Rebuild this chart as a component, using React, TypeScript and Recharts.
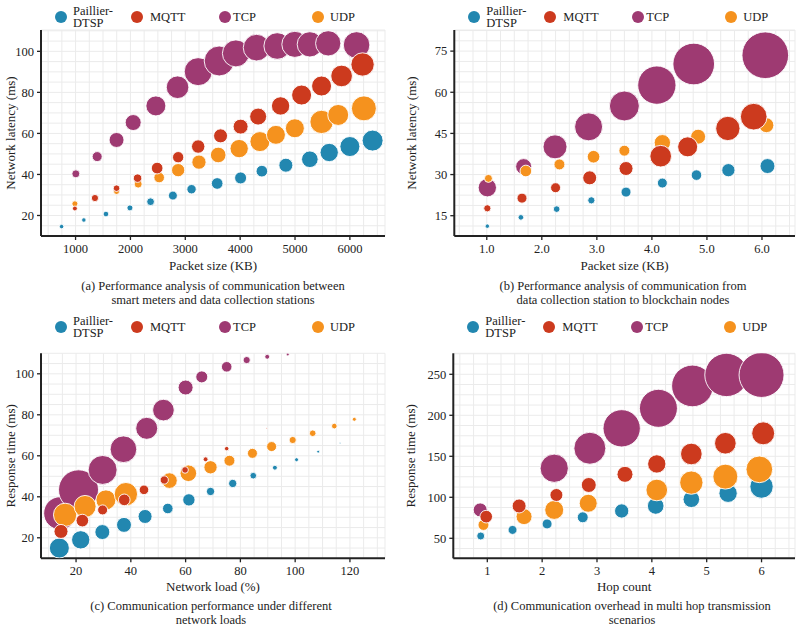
import React from 'react';
import { ScatterChart, Scatter, XAxis, YAxis, ZAxis, CartesianGrid } from 'recharts';

const FONT = "'Liberation Serif', 'Times New Roman', Times, Tinos, 'DejaVu Serif', serif";
const INK = '#222';

const COLORS = {
  paillier: '#2287b0',
  mqtt: '#cc3a1e',
  tcp: '#9e3a72',
  udp: '#f5921e',
};

const LEGEND = [
  { key: 'paillier', label: ['Paillier-', 'DTSP'] },
  { key: 'mqtt', label: ['MQTT'] },
  { key: 'tcp', label: ['TCP'] },
  { key: 'udp', label: ['UDP'] },
];

// [x, y, bubble size]
const aPaillier = [[745, 14.6, 5], [1151, 17.8, 5], [1554, 20.7, 8], [1991, 23.7, 9], [2367, 26.7, 15], [2774, 29.7, 20], [3114, 32.8, 22], [3581, 35.6, 34], [4008, 38.3, 36], [4396, 41.6, 34], [4833, 44.5, 49], [5270, 47.4, 69], [5623, 50.7, 84], [6000, 53.6, 100], [6414, 56.5, 110]];
const aMqtt = [[988, 23.4, 6], [1353, 28.5, 13], [1747, 33.3, 11], [2130, 38.2, 18], [2487, 43.1, 34], [2870, 48.4, 32], [3235, 53.6, 45], [3643, 58.8, 49], [4008, 63.3, 56], [4328, 68.2, 72], [4737, 73.4, 84], [5120, 78.7, 100], [5484, 83.1, 100], [5849, 88.0, 117], [6231, 93.6, 136]];
const aTcp = [[1005, 40.3, 16], [1394, 48.7, 25], [1747, 56.8, 56], [2050, 65.3, 64], [2464, 73.4, 100], [2859, 82.5, 128], [3235, 90.1, 196], [3618, 95.3, 225], [3922, 99.0, 182], [4299, 101.8, 177], [4675, 102.6, 177], [4997, 103.4, 170], [5270, 103.4, 160], [5605, 103.9, 160], [6122, 103.1, 177]];
const aUdp = [[988, 25.7, 9], [1747, 31.7, 9], [2141, 35.3, 16], [2524, 38.5, 28], [2870, 42.1, 44], [3249, 46.0, 51], [3600, 49.5, 61], [3982, 52.6, 84], [4360, 56.0, 100], [4652, 59.3, 90], [4997, 62.5, 90], [5484, 65.6, 136], [5787, 69.0, 110], [6255, 72.2, 156]];

const bPaillier = [[1.01, 11.2, 5], [1.62, 14.4, 8], [2.27, 17.4, 11], [2.9, 20.6, 13], [3.53, 23.6, 25], [4.19, 26.9, 25], [4.81, 29.8, 28], [5.39, 31.6, 44], [6.1, 33.1, 56]];
const bMqtt = [[1.01, 17.7, 13], [1.64, 21.4, 25], [2.25, 25.2, 25], [2.87, 28.8, 49], [3.53, 32.2, 49], [4.16, 36.7, 117], [4.65, 40.1, 100], [5.38, 46.8, 148], [5.85, 51.1, 178]];
const bTcp = [[1.01, 25.2, 84], [1.67, 32.9, 64], [2.24, 40.1, 144], [2.85, 47.4, 196], [3.5, 55.0, 225], [4.09, 62.6, 367], [4.76, 70.3, 434], [6.06, 73.5, 544]];
const bUdp = [[1.03, 28.6, 16], [1.71, 31.3, 34], [2.32, 33.7, 30], [2.94, 36.5, 40], [3.5, 38.7, 30], [4.19, 41.6, 67], [4.84, 43.8, 56], [6.08, 48.0, 56]];

const cPaillier = [[13.9, 15.0, 100], [21.7, 19.0, 84], [29.6, 22.8, 56], [37.5, 26.3, 56], [45.2, 30.4, 49], [53.5, 34.3, 28], [61.2, 38.5, 38], [69.1, 42.6, 17], [77.2, 46.5, 17], [84.7, 50.3, 11], [92.6, 54.2, 6], [100.5, 58.1, 4], [108.4, 62.0, 2], [116.4, 66.1, 0.5]];
const cMqtt = [[14.5, 23.1, 49], [22.3, 28.4, 40], [29.7, 33.6, 25], [37.6, 38.5, 34], [44.8, 43.4, 23], [52.2, 48.2, 17], [59.8, 53.1, 11], [67.3, 58.3, 6], [75.0, 63.5, 5], [89.6, 73.4, 0.4]];
const cTcp = [[14.2, 32.0, 272], [20.9, 43.4, 400], [29.7, 53.1, 210], [37.3, 63.2, 178], [45.8, 73.4, 121], [51.9, 82.3, 117], [60.0, 93.3, 56], [65.9, 98.5, 36], [75.0, 103.4, 28], [82.3, 106.7, 13], [89.8, 108.3, 6], [97.3, 109.4, 2]];
const cUdp = [[16.0, 31.2, 136], [23.3, 35.3, 121], [30.9, 38.5, 100], [38.2, 41.3, 136], [54.1, 47.9, 61], [61.0, 51.5, 69], [69.1, 54.4, 44], [76.0, 57.6, 30], [84.4, 61.2, 25], [91.4, 64.5, 25], [99.1, 67.7, 13], [106.4, 71.0, 11], [114.3, 74.5, 8], [121.6, 77.8, 4]];

const dPaillier = [[0.88, 52.8, 16], [1.46, 60.2, 20], [2.09, 67.5, 25], [2.74, 75.6, 30], [3.45, 83.3, 51], [4.07, 89.4, 69], [4.72, 97.6, 69], [5.39, 104.9, 84], [6.0, 113.0, 136]];
const dMqtt = [[0.98, 76.4, 40], [1.58, 89.4, 49], [2.26, 102.8, 42], [2.85, 115.0, 56], [3.51, 128.0, 64], [4.09, 140.7, 84], [4.72, 152.8, 117], [5.34, 165.9, 117], [6.03, 178.0, 132]];
const dTcp = [[0.87, 84.6, 49], [2.22, 135.4, 200], [2.87, 159.8, 256], [3.45, 184.1, 348], [4.12, 208.5, 361], [4.74, 235.8, 434], [5.36, 249.2, 469], [6.0, 249.2, 506]];
const dUdp = [[0.93, 66.3, 30], [1.67, 76.4, 64], [2.22, 84.6, 90], [2.84, 92.7, 81], [4.09, 108.9, 117], [4.72, 117.9, 136], [5.34, 125.2, 156], [5.96, 134.1, 178]];

const steps = (from: number, to: number, step: number) => {
  const out: number[] = [];
  for (let v = from; v <= to + 1e-9; v += step) out.push(+v.toFixed(4));
  return out;
};

const aXTicks = steps(500, 6500, 250);
const aYTicks = steps(10, 110, 5);
const bXTicks = steps(0.5, 6.5, 0.25);
const bYTicks = steps(11.25, 82.5, 3.75);
const cXTicks = steps(10, 130, 5);
const cYTicks = steps(10, 110, 5);
const dXTicks = steps(0.5, 6.5, 0.25);
const dYTicks = steps(37.5, 275, 12.5);

const toPoints = (rows: number[][]) => rows.map(([x, y, z]) => ({ x, y, z }));

const isMajor = (v: number, major: number) => {
  const q = v / major;
  return Math.abs(q - Math.round(q)) < 1e-6;
};

const xTick = (major: number, digits: number) => (props: any) => {
  const { x, y, payload } = props;
  if (!isMajor(payload.value, major)) return <g />;
  return (
    <g>
      <line x1={x} x2={x} y1={y - 8} y2={y - 4} stroke={INK} strokeWidth={1.3} />
      <text x={x} y={y} dy="0.71em" textAnchor="middle" fontSize={12.5} fill={INK} fontFamily={FONT}>
        {payload.value.toFixed(digits)}
      </text>
    </g>
  );
};

const yTick = (major: number) => (props: any) => {
  const { x, y, payload } = props;
  if (!isMajor(payload.value, major)) return <g />;
  return (
    <g>
      <line x1={x + 3} x2={x + 7} y1={y} y2={y} stroke={INK} strokeWidth={1.3} />
      <text x={x} y={y} dy="0.35em" textAnchor="end" fontSize={12.5} fill={INK} fontFamily={FONT}>
        {payload.value}
      </text>
    </g>
  );
};

const PANELS = [
  {
    left: 0, top: 0, width: 400, height: 280, plotLeft: 41, plotRight: 385, plotTop: 30, plotBottom: 236,
    xDomain: [370, 6640], yDomain: [10, 110.4], xTicks: aXTicks, yTicks: aYTicks, xMajor: 1000, xDigits: 0, yMajor: 20,
    xTitle: 'Packet size (KB)', yTitle: 'Network latency (ms)', xTitleOffset: 10.5, yTitleOffset: 10,
    series: { paillier: aPaillier, mqtt: aMqtt, tcp: aTcp, udp: aUdp },
    caption: ['(a) Performance analysis of communication between', 'smart meters and data collection stations'],
    captionX: 213, captionY: 287,
  },
  {
    left: 400, top: 0, width: 400, height: 280, plotLeft: 454.3, plotRight: 795, plotTop: 30, plotBottom: 236,
    xDomain: [0.41, 6.6], yDomain: [7.6, 82.7], xTicks: bXTicks, yTicks: bYTicks, xMajor: 1, xDigits: 1, yMajor: 15,
    xTitle: 'Packet size (KB)', yTitle: 'Network latency (ms)', xTitleOffset: 10.5, yTitleOffset: 11.7,
    series: { paillier: bPaillier, mqtt: bMqtt, tcp: bTcp, udp: bUdp },
    caption: ['(b) Performance analysis of communication from', 'data collection station to blockchain nodes'],
    captionX: 623, captionY: 287,
  },
  {
    left: 0, top: 310, width: 400, height: 290, plotLeft: 41, plotRight: 385, plotTop: 353.3, plotBottom: 558.3,
    xDomain: [7.2, 132.8], yDomain: [10, 110], xTicks: cXTicks, yTicks: cYTicks, xMajor: 20, xDigits: 0, yMajor: 20,
    xTitle: 'Network load (%)', yTitle: 'Response time (ms)', xTitleOffset: 9, yTitleOffset: 10,
    series: { paillier: cPaillier, mqtt: cMqtt, tcp: cTcp, udp: cUdp },
    caption: ['(c) Communication performance under different', 'network loads'],
    captionX: 211, captionY: 607,
  },
  {
    left: 400, top: 310, width: 400, height: 290, plotLeft: 453.3, plotRight: 795, plotTop: 353.3, plotBottom: 558.3,
    xDomain: [0.38, 6.61], yDomain: [25.6, 275.6], xTicks: dXTicks, yTicks: dYTicks, xMajor: 1, xDigits: 0, yMajor: 50,
    xTitle: 'Hop count', yTitle: 'Response time (ms)', xTitleOffset: 9, yTitleOffset: 10.7,
    series: { paillier: dPaillier, mqtt: dMqtt, tcp: dTcp, udp: dUdp },
    caption: ['(d) Communication overhead in multi hop transmission', 'scenarios'],
    captionX: 632, captionY: 607,
  },
];

const DRAW_ORDER = ['tcp', 'paillier', 'udp', 'mqtt'];
const LEGEND_DOT = [20, 96, 184, 277];
const LEGEND_TEXT = [32, 109, 192, 289];
const LEGEND_LINE = 12.5;

const Panel = ({ p }: { p: any }) => {
  const margin = { top: p.plotTop - p.top, right: p.left + p.width - p.plotRight, left: 0, bottom: 0 };
  const yWidth = p.plotLeft - p.left;
  const xHeight = p.top + p.height - p.plotBottom;
  const legendY = p.top + 17;
  return (
    <>
      <div style={{ position: 'absolute', left: p.left, top: p.top }}>
        <ScatterChart width={p.width} height={p.height} margin={margin} style={{ fontFamily: FONT }}>
          <CartesianGrid stroke="#ebebeb" strokeWidth={1} />
          <XAxis
            type="number" dataKey="x" domain={p.xDomain} ticks={p.xTicks} interval={0} allowDataOverflow
            height={xHeight} tickSize={4} tickMargin={4} tickLine={false}
            axisLine={{ stroke: INK, strokeWidth: 2 }} tick={xTick(p.xMajor, p.xDigits)}
            label={{ value: p.xTitle, position: 'insideBottom', offset: p.xTitleOffset, fontSize: 13, fill: INK, fontFamily: FONT }}
          />
          <YAxis
            type="number" dataKey="y" domain={p.yDomain} ticks={p.yTicks} interval={0} allowDataOverflow
            width={yWidth} tickSize={4} tickMargin={3} tickLine={false}
            axisLine={{ stroke: INK, strokeWidth: 2 }} tick={yTick(p.yMajor)}
            label={{ value: p.yTitle, angle: -90, position: 'insideLeft', offset: p.yTitleOffset, fontSize: 13, fill: INK, fontFamily: FONT, style: { textAnchor: 'middle' } }}
          />
          <ZAxis type="number" dataKey="z" domain={[0, 600]} range={[0, 600 * Math.PI]} />
          {DRAW_ORDER.map((k) => (
            <Scatter
              key={k} name={k} data={toPoints(p.series[k])} fill={(COLORS as any)[k]}
              stroke="#ffffff" strokeWidth={0.9} isAnimationActive={false}
            />
          ))}
        </ScatterChart>
      </div>
      {LEGEND.map((item, i) => (
        <React.Fragment key={item.key}>
          <div
            style={{
              position: 'absolute', left: p.plotLeft + LEGEND_DOT[i] - 6, top: legendY - 6,
              width: 12, height: 12, borderRadius: 6, background: (COLORS as any)[item.key],
            }}
          />
          <div
            style={{
              position: 'absolute', left: p.plotLeft + LEGEND_TEXT[i], top: legendY - (item.label.length * LEGEND_LINE) / 2,
              fontSize: 12.5, lineHeight: `${LEGEND_LINE}px`, color: INK, whiteSpace: 'nowrap', fontFamily: FONT,
            }}
          >
            {item.label.map((t) => <div key={t}>{t}</div>)}
          </div>
        </React.Fragment>
      ))}
      <div
        style={{
          position: 'absolute', left: p.captionX - 200, width: 400, top: p.captionY - 7,
          textAlign: 'center', fontSize: 12.5, lineHeight: '13.5px', color: INK, fontFamily: FONT,
        }}
      >
        {p.caption.map((t: string) => <div key={t}>{t}</div>)}
      </div>
    </>
  );
};

const App = () => (
  <div style={{ position: 'absolute', left: 0, top: 0, width: 800, height: 629, background: '#fff', fontFamily: FONT, overflow: 'hidden' }}>
    {PANELS.map((p, i) => <Panel key={i} p={p} />)}
  </div>
);

export default App;
